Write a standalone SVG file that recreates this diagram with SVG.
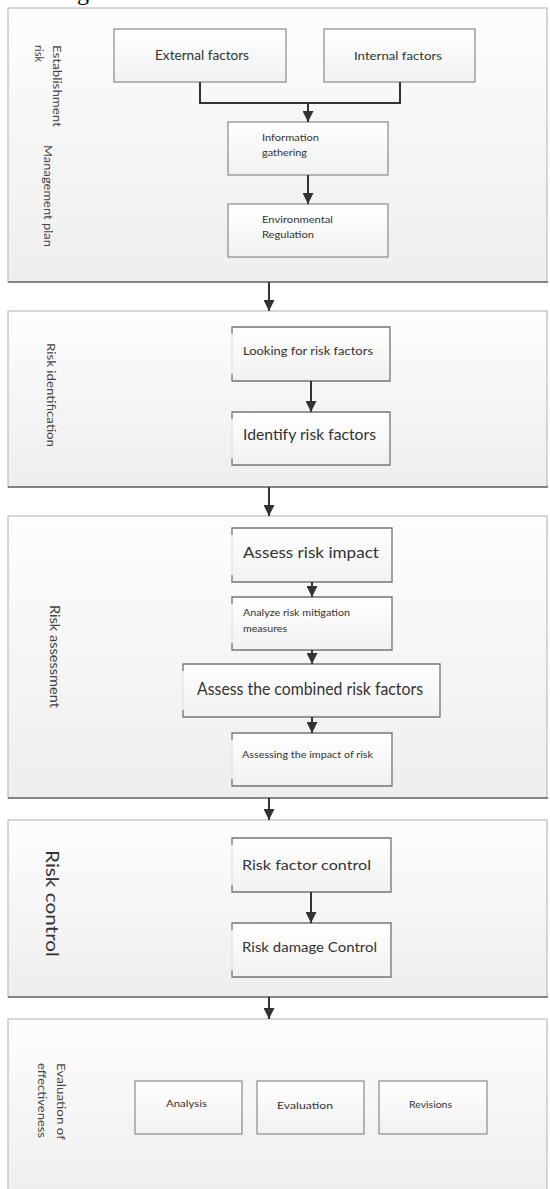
<svg xmlns="http://www.w3.org/2000/svg" width="550" height="1189" viewBox="0 0 550 1189">
<defs>
<linearGradient id="pg" x1="0" y1="0" x2="0" y2="1">
<stop offset="0" stop-color="#fdfdfd"/>
<stop offset="1" stop-color="#eeeeee"/>
</linearGradient>
<linearGradient id="bg" x1="0" y1="0" x2="0" y2="1">
<stop offset="0" stop-color="#ffffff"/>
<stop offset="1" stop-color="#f1f1f1"/>
</linearGradient>
<marker id="ah" viewBox="0 0 10 10" refX="10" refY="5" markerWidth="11" markerHeight="11" markerUnits="userSpaceOnUse" orient="auto">
<path d="M0,0 L10,5 L0,10 Z" fill="#333"/>
</marker>
</defs>
<style>
.panel{fill:url(#pg);stroke:#b0b0b0;stroke-width:1}
.pshadow{stroke:#6a6a6a;stroke-width:1.5;fill:none}
.box{fill:url(#bg);stroke:#8a8a8a;stroke-width:1.2}
.bfill{fill:url(#bg);stroke:#dddddd;stroke-width:1}
.bedge{fill:none;stroke:#7a7a7a;stroke-width:1.3}
.conn{fill:none;stroke:#333;stroke-width:2}
.t{font-family:Lato,"Liberation Sans",sans-serif;fill:#333}
.lab{font-family:Lato,"Liberation Sans",sans-serif;fill:#444}
</style>

<text x="77" y="0" font-family="Liberation Serif,serif" font-size="24" fill="#000">g</text>

<g id="section1">
<rect class="panel" x="8" y="8" width="539" height="274"/>
<line class="pshadow" x1="8" y1="282" x2="548" y2="282"/>
<text class="lab" font-size="12" transform="translate(53,45) rotate(90)" textLength="82" lengthAdjust="spacingAndGlyphs">Establishment</text>
<text class="lab" font-size="11" transform="translate(35,45) rotate(90)">risk</text>
<text class="lab" font-size="12" transform="translate(44,145) rotate(90)" textLength="102" lengthAdjust="spacingAndGlyphs">Management plan</text>
</g>
<g id="section2">
<rect class="panel" x="8" y="311" width="539" height="176"/>
<line class="pshadow" x1="8" y1="487" x2="548" y2="487"/>
<text class="lab" font-size="11" transform="translate(47,343) rotate(90)" textLength="104" lengthAdjust="spacingAndGlyphs">Risk identification</text>
</g>
<g id="section3">
<rect class="panel" x="8" y="516" width="539" height="282"/>
<line class="pshadow" x1="8" y1="798" x2="548" y2="798"/>
<text class="lab" font-size="13" transform="translate(50,605) rotate(90)" textLength="103" lengthAdjust="spacingAndGlyphs">Risk assessment</text>
</g>
<g id="section4">
<rect class="panel" x="8" y="820" width="539" height="177"/>
<line class="pshadow" x1="8" y1="997" x2="548" y2="997"/>
<text class="t" font-size="18" transform="translate(46,850) rotate(90)" textLength="107" lengthAdjust="spacingAndGlyphs">Risk control</text>
</g>
<g id="section5">
<rect class="panel" x="8" y="1019" width="539" height="180"/>
<text class="lab" font-size="11" transform="translate(57,1063) rotate(90)" textLength="77" lengthAdjust="spacingAndGlyphs">Evaluation of</text>
<text class="lab" font-size="11" transform="translate(38,1063) rotate(90)" textLength="75" lengthAdjust="spacingAndGlyphs">effectiveness</text>
</g>

<g id="external">
<rect class="box" x="114" y="29" width="172" height="53"/>
<text class="t" font-size="14" x="155" y="60" textLength="94" lengthAdjust="spacingAndGlyphs">External factors</text>
</g>
<g id="internal">
<rect class="box" x="324" y="29" width="151" height="53"/>
<text class="t" font-size="12" x="354" y="60" textLength="88" lengthAdjust="spacingAndGlyphs">Internal factors</text>
</g>
<g id="info">
<rect class="box" x="228" y="122" width="160" height="53"/>
<text class="t" font-size="10" x="262" y="141" textLength="57" lengthAdjust="spacingAndGlyphs">Information</text>
<text class="t" font-size="10" x="262" y="156" textLength="45" lengthAdjust="spacingAndGlyphs">gathering</text>
</g>
<g id="envreg">
<rect class="box" x="228" y="204" width="160" height="53"/>
<text class="t" font-size="10" x="262" y="223" textLength="71" lengthAdjust="spacingAndGlyphs">Environmental</text>
<text class="t" font-size="10" x="262" y="238" textLength="52" lengthAdjust="spacingAndGlyphs">Regulation</text>
</g>

<g id="looking">
<rect class="bfill" x="232" y="327" width="158" height="54"/>
<path class="bedge" d="M232,334 V327 H390 V381 H232 V374"/>
<text class="t" font-size="12" x="243" y="355" textLength="130" lengthAdjust="spacingAndGlyphs">Looking for risk factors</text>
</g>
<g id="identify">
<rect class="bfill" x="232" y="412" width="158" height="53"/>
<path class="bedge" d="M232,419 V412 H390 V465 H232 V458"/>
<text class="t" font-size="15" x="243" y="440" textLength="133" lengthAdjust="spacingAndGlyphs">Identify risk factors</text>
</g>

<g id="assessimpact">
<rect class="bfill" x="232" y="528" width="160" height="54"/>
<path class="bedge" d="M232,535 V528 H392 V582 H232 V575"/>
<text class="t" font-size="16" x="243" y="558" textLength="136" lengthAdjust="spacingAndGlyphs">Assess risk impact</text>
</g>
<g id="analyze">
<rect class="bfill" x="232" y="597" width="160" height="53"/>
<path class="bedge" d="M232,604 V597 H392 V650 H232 V643"/>
<text class="t" font-size="9" x="243" y="616" textLength="107" lengthAdjust="spacingAndGlyphs">Analyze risk mitigation</text>
<text class="t" font-size="9" x="243" y="632" textLength="44" lengthAdjust="spacingAndGlyphs">measures</text>
</g>
<g id="combined">
<rect class="bfill" x="183" y="664" width="257" height="53"/>
<path class="bedge" d="M183,671 V664 H440 V717 H183 V710"/>
<text class="t" font-size="17" x="197" y="695" textLength="226" lengthAdjust="spacingAndGlyphs">Assess the combined risk factors</text>
</g>
<g id="assessing">
<rect class="bfill" x="232" y="733" width="160" height="53"/>
<path class="bedge" d="M232,740 V733 H392 V786 H232 V779"/>
<text class="t" font-size="9" x="242" y="758" textLength="131" lengthAdjust="spacingAndGlyphs">Assessing the impact of risk</text>
</g>

<g id="riskfactorcontrol">
<rect class="bfill" x="232" y="838" width="159" height="54"/>
<path class="bedge" d="M232,845 V838 H391 V892 H232 V885"/>
<text class="t" font-size="14" x="242" y="870" textLength="129" lengthAdjust="spacingAndGlyphs">Risk factor control</text>
</g>
<g id="riskdamagecontrol">
<rect class="bfill" x="232" y="923" width="159" height="54"/>
<path class="bedge" d="M232,930 V923 H391 V977 H232 V970"/>
<text class="t" font-size="13" x="242" y="952" textLength="135" lengthAdjust="spacingAndGlyphs">Risk damage Control</text>
</g>

<g id="analysis">
<rect class="box" x="135" y="1081" width="107" height="53"/>
<text class="t" font-size="10" x="166" y="1107" textLength="41" lengthAdjust="spacingAndGlyphs">Analysis</text>
</g>
<g id="evaluation">
<rect class="box" x="257" y="1081" width="107" height="53"/>
<text class="t" font-size="10" x="277" y="1109" textLength="56" lengthAdjust="spacingAndGlyphs">Evaluation</text>
</g>
<g id="revisions">
<rect class="box" x="379" y="1081" width="108" height="53"/>
<text class="t" font-size="10" x="409" y="1108" textLength="43" lengthAdjust="spacingAndGlyphs">Revisions</text>
</g>

<g id="connectors">
<path class="conn" d="M200,82 V103 H400 V82"/>
<path class="conn" d="M308,103 V122" marker-end="url(#ah)"/>
<path class="conn" d="M308,175 V204" marker-end="url(#ah)"/>
<path class="conn" d="M269,282 V311" marker-end="url(#ah)"/>
<path class="conn" d="M311,381 V412" marker-end="url(#ah)"/>
<path class="conn" d="M269,487 V516" marker-end="url(#ah)"/>
<path class="conn" d="M312,582 V597" marker-end="url(#ah)"/>
<path class="conn" d="M312,650 V664" marker-end="url(#ah)"/>
<path class="conn" d="M312,717 V733" marker-end="url(#ah)"/>
<path class="conn" d="M269,798 V820" marker-end="url(#ah)"/>
<path class="conn" d="M311,892 V923" marker-end="url(#ah)"/>
<path class="conn" d="M269,997 V1019" marker-end="url(#ah)"/>
</g>
</svg>
